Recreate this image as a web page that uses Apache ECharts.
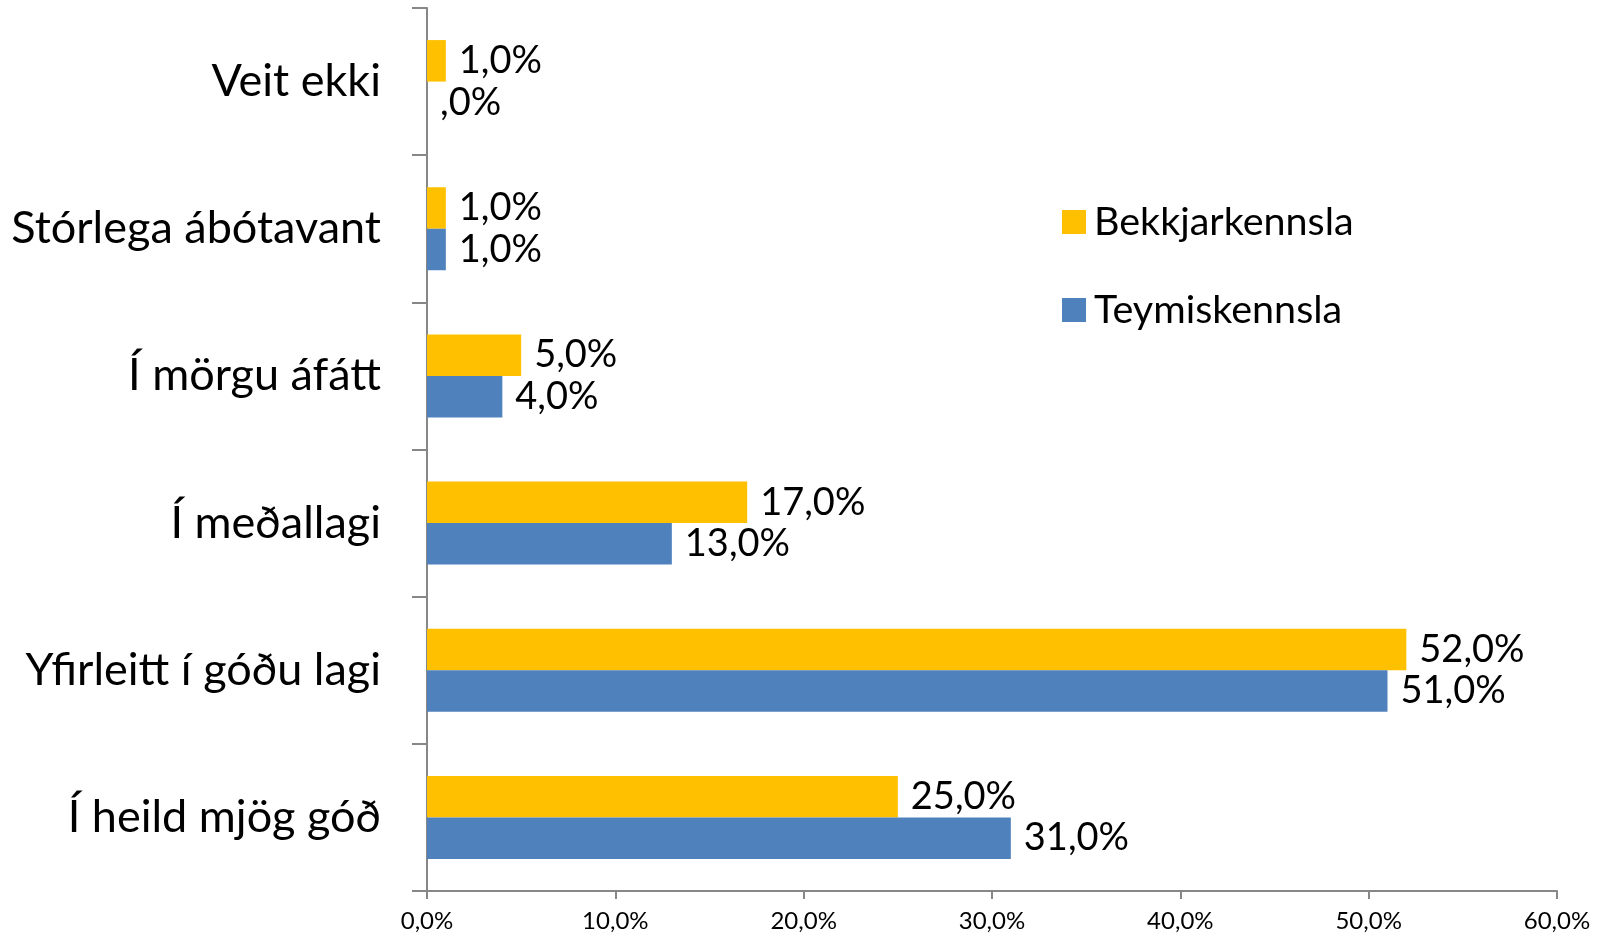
<!DOCTYPE html>
<html>
<head>
<meta charset="utf-8">
<script src="https://cdn.jsdelivr.net/npm/echarts@6/dist/echarts.min.js"></script>
<style>
  html, body { margin: 0; padding: 0; background: #fff; }
  #container { width: 1598px; height: 941px; }
</style>
</head>
<body>
<div id="container"></div>
<script>
var dom = document.getElementById("container");
var myChart = echarts.init(dom);

// categories, bottom to top
var categories = ['Í heild mjög góð', 'Yfirleitt í góðu lagi', 'Í meðallagi', 'Í mörgu áfátt', 'Stórlega ábótavant', 'Veit ekki'];
var bekkjarkennsla = [25, 52, 17, 5, 1, 1];
var teymiskennsla = [31, 51, 13, 4, 1, 0];
var xTicks = [0, 10, 20, 30, 40, 50, 60];

var FONT = 'Lato';
var axisColor = '#878787';

function pct(v) {
    if (v === 0) return ',0%';
    return v.toFixed(1).replace('.', ',') + '%';
}

function barLabel() {
    return {
        show: true,
        position: 'right',
        distance: 13,
        color: '#000',
        fontFamily: FONT,
        fontSize: 38,
        formatter: function (p) { return pct(p.value); }
    };
}

var option = {
    animation: false,
    textStyle: { fontFamily: FONT },
    grid: {
        left: 427,
        right: 41,
        top: 8,
        bottom: 50,
        containLabel: false
    },
    legend: {
        orient: 'vertical',
        left: 1062,
        top: 202,
        padding: 0,
        icon: 'rect',
        itemWidth: 24,
        itemHeight: 24,
        itemGap: 48,
        data: ['Bekkjarkennsla', 'Teymiskennsla'],
        textStyle: {
            fontFamily: FONT,
            fontSize: 39.5,
            color: '#000',
            lineHeight: 40,
            padding: [0, 0, 0, 3]
        }
    },
    xAxis: {
        type: 'value',
        min: xTicks[0],
        max: xTicks[xTicks.length - 1],
        interval: 10,
        splitLine: { show: false },
        axisLine: { show: true, lineStyle: { color: axisColor, width: 2 } },
        axisTick: { show: true, length: 8, lineStyle: { color: axisColor, width: 2 } },
        axisLabel: {
            color: '#000',
            fontFamily: FONT,
            fontSize: 24,
            margin: 18,
            formatter: function (v) { return v === 0 ? '0,0%' : pct(v); }
        }
    },
    yAxis: {
        type: 'category',
        data: categories,
        axisLine: { show: true, lineStyle: { color: axisColor, width: 2 } },
        axisTick: { show: true, length: 15, lineStyle: { color: axisColor, width: 2 } },
        axisLabel: {
            color: '#000',
            fontFamily: FONT,
            fontSize: 45,
            margin: 46
        }
    },
    series: [
        {
            name: 'Bekkjarkennsla',
            type: 'bar',
            data: bekkjarkennsla,
            barWidth: 41.5,
            barGap: '0%',
            itemStyle: { color: '#FFC000' },
            label: barLabel()
        },
        {
            name: 'Teymiskennsla',
            type: 'bar',
            data: teymiskennsla,
            barWidth: 41.5,
            barGap: '0%',
            itemStyle: { color: '#4F81BD' },
            label: barLabel()
        }
    ]
};

if (option && typeof option === "object") {
    myChart.setOption(option, false);
}
</script>
</body>
</html>
